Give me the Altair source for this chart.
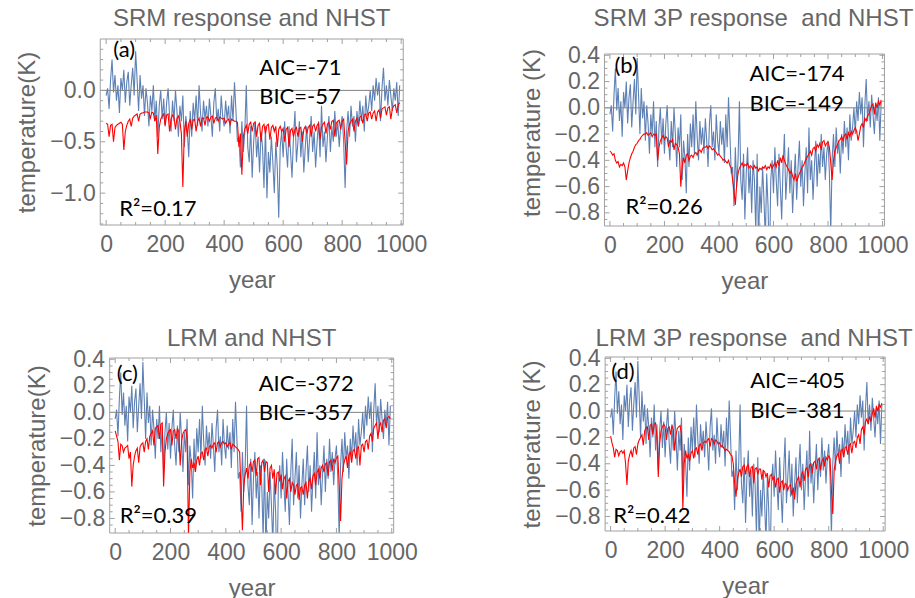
import altair as alt
import pandas as pd

years = list(range(0, 1000, 5))

observed = [
    -0.05, 0.02, -0.18, 0.10, 0.30, -0.02, 0.15, -0.10, 0.05, -0.22,
    0.12, 0.00, 0.20, -0.12, 0.08, 0.18, -0.15, 0.05, 0.22, -0.05,
    0.38, 0.10, -0.20, 0.15, -0.08, 0.05, -0.25, 0.02, -0.12, -0.35,
    -0.05, -0.20, 0.05, -0.30, -0.10, -0.45, -0.15, 0.00, -0.28, -0.08,
    -0.35, -0.12, 0.02, -0.25, -0.40, -0.10, -0.30, 0.00, -0.20, -0.45,
    -0.15, -0.30, -0.05, -0.55, -0.25, -0.38, -0.65, -0.20, -0.45, -0.12,
    -0.30, -0.05, -0.35, 0.05, -0.22, -0.40, -0.10, -0.28, -0.15, -0.35,
    -0.08, -0.25, -0.45, -0.12, 0.02, -0.30, -0.18, -0.40, -0.05, -0.25,
    -0.35, -0.10, -0.28, -0.15, -0.42, -0.05, -0.30, 0.08, -0.20, -0.50,
    -0.45, -0.75, -0.30, -0.60, -0.40, 0.05, -0.55, -0.70, -0.35, -0.85,
    -0.50, -0.30, -0.65, -0.45, -0.80, -0.40, -0.55, -0.95, -0.35, -1.05,
    -0.60, -0.80, -0.45, -0.70, -1.00, -0.50, -0.75, -1.24, -0.55, -0.40,
    -0.65, -0.30, -0.55, -0.75, -0.35, -0.60, -0.85, -0.45, -0.20, -0.70,
    -0.50, -0.30, -0.65, -0.40, -0.80, -0.55, -0.35, -0.70, -0.45, -0.25,
    -0.60, -0.40, -0.75, -0.50, -0.30, -0.65, -0.15, -0.55, -0.40, -0.70,
    -0.45, -0.25, -0.60, -0.35, -0.50, -0.20, -0.45, -0.30, -0.55, -0.35,
    -0.25, -0.50, -0.95, -0.40, -0.20, -0.45, -0.15, -0.35, -0.25, -0.50,
    -0.20, -0.35, -0.10, -0.30, -0.15, -0.40, -0.05, -0.25, -0.15, 0.00,
    -0.20, 0.05, -0.10, 0.12, -0.05, 0.08, -0.30, 0.02, 0.22, -0.10,
    0.05, -0.15, 0.10, -0.05, -0.20, 0.02, -0.10, 0.08, -0.25, 0.05,
]

srm = [
    -0.32, -0.33, -0.45, -0.34, -0.33, -0.50, -0.36, -0.34, -0.33, -0.32,
    -0.31, -0.33, -0.58, -0.40, -0.34, -0.30, -0.28, -0.35, -0.27, -0.25,
    -0.24, -0.23, -0.30, -0.23, -0.22, -0.22, -0.21, -0.21, -0.21, -0.22,
    -0.27, -0.21, -0.22, -0.30, -0.24, -0.62, -0.36, -0.28, -0.25, -0.23,
    -0.34, -0.24, -0.23, -0.40, -0.28, -0.24, -0.26, -0.38, -0.27, -0.25,
    -0.30, -0.42, -0.94, -0.40, -0.30, -0.45, -0.32, -0.28, -0.38, -0.29,
    -0.28, -0.40, -0.30, -0.27, -0.35, -0.27, -0.27, -0.34, -0.26, -0.26,
    -0.30, -0.26, -0.25, -0.32, -0.27, -0.26, -0.30, -0.26, -0.27, -0.28,
    -0.27, -0.32, -0.29, -0.28, -0.33, -0.28, -0.29, -0.30, -0.30, -0.31,
    -0.55, -0.42, -0.82, -0.45, -0.38, -0.34, -0.42, -0.33, -0.31, -0.40,
    -0.32, -0.31, -0.45, -0.34, -0.32, -0.50, -0.35, -0.33, -0.42, -0.34,
    -0.33, -0.48, -0.36, -0.34, -0.40, -0.35, -0.55, -0.38, -0.35, -0.40,
    -0.37, -0.50, -0.38, -0.36, -0.55, -0.39, -0.37, -0.45, -0.38, -0.36,
    -0.45, -0.37, -0.36, -0.50, -0.38, -0.35, -0.42, -0.36, -0.34, -0.45,
    -0.35, -0.33, -0.40, -0.34, -0.32, -0.48, -0.36, -0.33, -0.31, -0.42,
    -0.33, -0.31, -0.38, -0.30, -0.29, -0.45, -0.32, -0.30, -0.29, -0.38,
    -0.30, -0.28, -0.50, -0.72, -0.40, -0.33, -0.30, -0.28, -0.40, -0.30,
    -0.27, -0.35, -0.26, -0.25, -0.32, -0.24, -0.23, -0.30, -0.22, -0.21,
    -0.28, -0.22, -0.20, -0.30, -0.21, -0.19, -0.27, -0.18, -0.17, -0.16,
    -0.24, -0.17, -0.16, -0.28, -0.18, -0.15, -0.14, -0.22, -0.14, -0.12,
]

srm_3p = [
    -0.33, -0.34, -0.36, -0.35, -0.40, -0.42, -0.41, -0.45, -0.43, -0.44,
    -0.42, -0.45, -0.55, -0.48, -0.42, -0.38, -0.35, -0.33, -0.30, -0.28,
    -0.27, -0.25, -0.24, -0.22, -0.21, -0.20, -0.20, -0.19, -0.21, -0.20,
    -0.19, -0.22, -0.20, -0.21, -0.20, -0.40, -0.30, -0.25, -0.23, -0.21,
    -0.24, -0.22, -0.23, -0.30, -0.25, -0.26, -0.24, -0.32, -0.27, -0.28,
    -0.30, -0.35, -0.60, -0.45, -0.38, -0.42, -0.36, -0.35, -0.40, -0.37,
    -0.36, -0.38, -0.35, -0.34, -0.36, -0.33, -0.32, -0.34, -0.31, -0.30,
    -0.30, -0.29, -0.31, -0.29, -0.30, -0.32, -0.31, -0.33, -0.34, -0.36,
    -0.35, -0.37, -0.38, -0.40, -0.39, -0.41, -0.42, -0.40, -0.44, -0.46,
    -0.55, -0.63, -0.74, -0.58, -0.50, -0.46, -0.44, -0.42, -0.45, -0.43,
    -0.44, -0.42, -0.46, -0.44, -0.45, -0.47, -0.44, -0.46, -0.45, -0.48,
    -0.46, -0.47, -0.45, -0.46, -0.44, -0.47, -0.45, -0.46, -0.43, -0.46,
    -0.44, -0.42, -0.45, -0.40, -0.44, -0.38, -0.42, -0.36, -0.40, -0.43,
    -0.45, -0.47, -0.50, -0.48, -0.52, -0.55, -0.50, -0.56, -0.53, -0.50,
    -0.48, -0.45, -0.44, -0.41, -0.39, -0.37, -0.35, -0.33, -0.36, -0.31,
    -0.30, -0.33, -0.28, -0.30, -0.27, -0.32, -0.26, -0.25, -0.29, -0.27,
    -0.26, -0.30, -0.42, -0.55, -0.40, -0.33, -0.30, -0.28, -0.25, -0.24,
    -0.22, -0.25, -0.21, -0.20, -0.24, -0.19, -0.22, -0.18, -0.20, -0.17,
    -0.15, -0.18, -0.25, -0.20, -0.14, -0.12, -0.15, -0.08, -0.10, -0.06,
    -0.05, -0.02, 0.02, 0.03, -0.05, 0.04, 0.00, 0.05, 0.02, 0.06,
]

lrm = [
    -0.14, -0.18, -0.22, -0.36, -0.24, -0.25, -0.30, -0.27, -0.26, -0.25,
    -0.35, -0.30, -0.56, -0.40, -0.33, -0.29, -0.27, -0.38, -0.26, -0.24,
    -0.23, -0.30, -0.22, -0.20, -0.28, -0.18, -0.16, -0.14, -0.25, -0.12,
    -0.11, -0.10, -0.20, -0.09, -0.08, -0.56, -0.30, -0.20, -0.16, -0.14,
    -0.13, -0.25, -0.14, -0.13, -0.20, -0.12, -0.15, -0.40, -0.22, -0.16,
    -0.14, -0.13, -0.20, -0.95, -0.45, -0.35, -0.42, -0.38, -0.45, -0.36,
    -0.33, -0.40, -0.31, -0.30, -0.36, -0.28, -0.27, -0.33, -0.26, -0.25,
    -0.27, -0.24, -0.23, -0.30, -0.23, -0.22, -0.26, -0.23, -0.22, -0.24,
    -0.23, -0.26, -0.24, -0.23, -0.28, -0.24, -0.25, -0.26, -0.27, -0.28,
    -0.30, -0.60, -0.89, -0.55, -0.47, -0.42, -0.50, -0.40, -0.38, -0.45,
    -0.37, -0.36, -0.48, -0.35, -0.34, -0.55, -0.38, -0.36, -0.45, -0.37,
    -0.38, -0.60, -0.42, -0.40, -0.50, -0.43, -0.62, -0.46, -0.45, -0.52,
    -0.47, -0.58, -0.50, -0.48, -0.65, -0.52, -0.50, -0.60, -0.53, -0.55,
    -0.62, -0.55, -0.54, -0.66, -0.57, -0.56, -0.62, -0.55, -0.53, -0.65,
    -0.52, -0.50, -0.58, -0.48, -0.46, -0.55, -0.45, -0.43, -0.50, -0.42,
    -0.40, -0.45, -0.39, -0.38, -0.48, -0.37, -0.36, -0.44, -0.35, -0.38,
    -0.34, -0.33, -0.55, -0.82, -0.50, -0.40, -0.36, -0.33, -0.42, -0.32,
    -0.30, -0.38, -0.29, -0.28, -0.35, -0.27, -0.26, -0.40, -0.25, -0.24,
    -0.30, -0.22, -0.21, -0.28, -0.18, -0.16, -0.22, -0.12, -0.10, -0.08,
    -0.20, -0.10, -0.08, -0.15, -0.06, -0.05, -0.12, -0.04, -0.03, -0.05,
]

lrm_3p = [
    -0.19, -0.24, -0.28, -0.35, -0.29, -0.30, -0.34, -0.31, -0.30, -0.32,
    -0.30, -0.40, -0.56, -0.38, -0.33, -0.30, -0.35, -0.28, -0.27, -0.33,
    -0.25, -0.22, -0.20, -0.18, -0.26, -0.15, -0.13, -0.12, -0.22, -0.11,
    -0.10, -0.18, -0.10, -0.09, -0.20, -0.50, -0.25, -0.15, -0.12, -0.10,
    -0.12, -0.22, -0.13, -0.12, -0.18, -0.11, -0.14, -0.30, -0.18, -0.13,
    -0.12, -0.11, -0.18, -0.75, -0.40, -0.30, -0.36, -0.33, -0.38, -0.32,
    -0.30, -0.36, -0.29, -0.28, -0.33, -0.26, -0.25, -0.30, -0.24, -0.23,
    -0.24, -0.22, -0.21, -0.27, -0.21, -0.22, -0.25, -0.22, -0.23, -0.25,
    -0.24, -0.27, -0.26, -0.28, -0.30, -0.29, -0.30, -0.31, -0.33, -0.34,
    -0.40, -0.55, -0.65, -0.52, -0.47, -0.44, -0.50, -0.42, -0.41, -0.48,
    -0.42, -0.41, -0.50, -0.43, -0.42, -0.55, -0.44, -0.43, -0.48, -0.44,
    -0.44, -0.52, -0.45, -0.46, -0.50, -0.47, -0.58, -0.49, -0.48, -0.52,
    -0.50, -0.58, -0.52, -0.51, -0.62, -0.54, -0.53, -0.60, -0.55, -0.56,
    -0.60, -0.57, -0.56, -0.64, -0.58, -0.67, -0.55, -0.52, -0.50, -0.58,
    -0.48, -0.46, -0.53, -0.44, -0.43, -0.50, -0.41, -0.40, -0.47, -0.39,
    -0.38, -0.44, -0.37, -0.36, -0.45, -0.38, -0.36, -0.42, -0.35, -0.37,
    -0.34, -0.36, -0.60, -0.78, -0.45, -0.38, -0.34, -0.32, -0.40, -0.30,
    -0.29, -0.35, -0.28, -0.27, -0.33, -0.26, -0.25, -0.32, -0.24, -0.23,
    -0.28, -0.20, -0.18, -0.25, -0.14, -0.12, -0.18, -0.08, -0.06, -0.10,
    -0.04, -0.08, -0.02, 0.02, -0.05, 0.04, 0.00, 0.05, 0.03, 0.06,
]

titles = ["SRM response and NHST", "SRM 3P response\u00a0 and NHST",
          "LRM and NHST", "LRM 3P response\u00a0 and NHST"]
y_titles = ["temperature(K)", "temperature (K)", "temperature(K)", "temperature (K)"]
tags = ["(a)", "(b)", "(c)", "(d)"]
aic_labels = ["AIC=-71", "AIC=-174", "AIC=-372", "AIC=-405"]
bic_labels = ["BIC=-57", "BIC=-149", "BIC=-357", "BIC=-381"]
r2_labels = ["R\u00b2=0.17", "R\u00b2=0.26", "R\u00b2=0.39", "R\u00b2=0.42"]

x_major = [0, 200, 400, 600, 800, 1000]
x_minor = [50, 100, 150, 250, 300, 350, 450, 500, 550, 650, 700, 750, 850, 900, 950]
ya_major = [0.0, -0.5, -1.0]
ya_minor = [0.4, 0.3, 0.2, 0.1, -0.1, -0.2, -0.3, -0.4, -0.6, -0.7, -0.8, -0.9,
            -1.1, -1.2, -1.3]
yb_major = [0.4, 0.2, 0.0, -0.2, -0.4, -0.6, -0.8]
yb_minor = [0.35, 0.3, 0.25, 0.15, 0.1, 0.05, -0.05, -0.1, -0.15, -0.25, -0.3, -0.35,
            -0.45, -0.5, -0.55, -0.65, -0.7, -0.75, -0.85]

GRAY = "#666666"
FRAME = "#a0a0a0"
BLUE = "#5E81B5"
FONT = "Liberation Sans"
NOTE_FONT = "Lato"


def panel(i, model, ydom, ymaj, ymin, w, h, toff, pos, top=0, tdx=0):
    # 'top' = blank pixels kept above the frame inside the view
    df = pd.DataFrame({"year": years, "observed": observed, "model": model})
    xs = alt.Scale(domain=[-20, 1007], nice=False, zero=False)
    lo, hi = ydom
    hi_ext = hi + top * (hi - lo) / (h - top)
    ys = alt.Scale(domain=[lo, hi_ext], nice=False, zero=False)
    xax = alt.Axis(values=x_major, format="d", title="year")
    yax = alt.Axis(values=ymaj, format=".1f", title=y_titles[i])
    X = lambda f: alt.X(f, scale=xs, axis=xax)
    Y = lambda f: alt.Y(f, scale=ys, axis=yax)
    base = alt.Chart(df)
    obs_line = base.mark_line(color=BLUE, strokeWidth=1.1, clip=True).encode(
        x=X("year:Q"), y=Y("observed:Q"))
    zero = alt.Chart(pd.DataFrame({"z": [0.0]})).mark_rule(
        color="#808080", strokeWidth=1).encode(y=Y("z:Q"))
    model_line = base.mark_line(color="#ff0000", strokeWidth=1.1, clip=True).encode(
        x=X("year:Q"), y=Y("model:Q"))
    layers = [obs_line, zero, model_line]
    one = alt.Chart(pd.DataFrame({"k": [0]}))
    # frame
    layers.append(one.mark_rule(color=FRAME).encode(
        x=alt.value(0), x2=alt.value(w), y=alt.value(top)))
    layers.append(one.mark_rule(color=FRAME).encode(
        x=alt.value(0), x2=alt.value(w), y=alt.value(h)))
    layers.append(one.mark_rule(color=FRAME).encode(
        x=alt.value(0), y=alt.value(top), y2=alt.value(h)))
    layers.append(one.mark_rule(color=FRAME).encode(
        x=alt.value(w), y=alt.value(top), y2=alt.value(h)))
    # inward frame ticks
    for vals, ln in ((x_major, 5), (x_minor, 3)):
        d = alt.Chart(pd.DataFrame({"t": vals}))
        layers.append(d.mark_rule(color=FRAME).encode(
            x=X("t:Q"), y=alt.value(h), y2=alt.value(h - ln)))
        layers.append(d.mark_rule(color=FRAME).encode(
            x=X("t:Q"), y=alt.value(top), y2=alt.value(top + ln)))
    for vals, ln in ((ymaj, 5), (ymin, 3)):
        d = alt.Chart(pd.DataFrame({"t": vals}))
        layers.append(d.mark_rule(color=FRAME).encode(
            y=Y("t:Q"), x=alt.value(0), x2=alt.value(ln)))
        layers.append(d.mark_rule(color=FRAME).encode(
            y=Y("t:Q"), x=alt.value(w), x2=alt.value(w - ln)))
    notes = [tags[i], aic_labels[i], bic_labels[i], r2_labels[i]]
    for txt, (px, py) in zip(notes, pos):
        layers.append(alt.Chart(pd.DataFrame({"label": [txt]})).mark_text(
            font=NOTE_FONT, fontSize=22, color="black", align="left",
            baseline="middle").encode(
            x=alt.value(px), y=alt.value(py + top), text="label:N"))
    return alt.layer(*layers).properties(
        width=w, height=h,
        title=alt.TitleParams(titles[i], offset=toff, frame="group",
                              anchor="middle", dx=tdx))


pa = panel(0, srm, [-1.31, 0.50], ya_major, ya_minor, 303, 186, 8,
           [(13, 11), (159, 29), (159, 58), (19, 170)])
pb = panel(1, srm_3p, [-0.90, 0.41], yb_major, yb_minor, 280, 187, 8,
           [(10, 12), (145, 20), (145, 50), (21, 153)], top=15, tdx=9)
pc = panel(2, lrm, [-0.91, 0.41], yb_major, yb_minor, 284, 175, -3,
           [(7, 16), (149, 26), (149, 55), (10, 158)])
pd_ = panel(3, lrm_3p, [-0.91, 0.41], yb_major, yb_minor, 280, 174, -4,
            [(6, 15), (145, 24), (145, 54), (8, 159)], tdx=9)

col1 = alt.vconcat(pa, pc, spacing=35, center=True)
col2 = alt.vconcat(pb, pd_, spacing=34, center=True)

chart = alt.hconcat(col1, col2, spacing=93).properties(
    padding={"left": 15, "top": 6, "right": 0, "bottom": 0}
).configure_view(
    stroke="transparent", strokeWidth=0
).configure_axis(
    domain=False, ticks=False, grid=False,
    labelFont=FONT, labelFontSize=23, labelColor=GRAY,
    titleFont=FONT, titleFontSize=24, titleColor=GRAY, titleFontWeight="normal",
    labelFlush=False, labelOverlap=False,
).configure_axisX(
    labelPadding=8, titlePadding=12
).configure_axisY(
    labelPadding=5, titlePadding=10
).configure_title(
    font=FONT, fontSize=24, color=GRAY, fontWeight="normal"
)

chart.save("out.html", embed_options={"renderer": "svg", "actions": False})
